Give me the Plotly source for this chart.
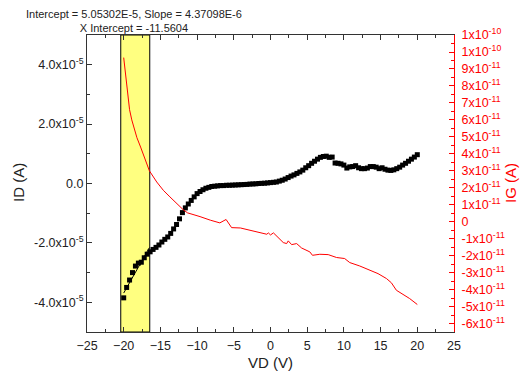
import plotly.graph_objects as go

# ---------------- data ----------------
vd = [-20.0, -19.6, -19.2, -18.8, -18.4, -18.0, -17.6, -17.2, -16.8, -16.4,
      -16.0, -15.6, -15.2, -14.8, -14.4, -14.0, -13.6, -13.2, -12.8, -12.4,
      -12.0, -11.6, -11.2, -10.8, -10.4, -10.0, -9.6, -9.2, -8.8, -8.4,
      -8.0, -7.6, -7.2, -6.8, -6.4, -6.0, -5.6, -5.2, -4.8, -4.4,
      -4.0, -3.6, -3.2, -2.8, -2.4, -2.0, -1.6, -1.2, -0.8, -0.4,
      0.0, 0.4, 0.8, 1.2, 1.6, 2.0, 2.4, 2.8, 3.2, 3.6,
      4.0, 4.4, 4.8, 5.2, 5.6, 6.0, 6.4, 6.8, 7.2, 7.6,
      8.0, 8.4, 8.8, 9.2, 9.6, 10.0, 10.4, 10.8, 11.2, 11.6,
      12.0, 12.4, 12.8, 13.2, 13.6, 14.0, 14.4, 14.8, 15.2, 15.6,
      16.0, 16.4, 16.8, 17.2, 17.6, 18.0, 18.4, 18.8, 19.2, 19.6, 20.0]

id_e5 = [-3.85, -3.5, -3.25, -3.0, -2.78, -2.68, -2.65, -2.5, -2.38, -2.3,
         -2.22, -2.15, -2.07, -1.97, -1.88, -1.8, -1.68, -1.53, -1.38, -1.19,
         -0.98, -0.82, -0.69, -0.57, -0.45, -0.34, -0.27, -0.21, -0.16, -0.13,
         -0.10, -0.09, -0.08, -0.07, -0.07, -0.06, -0.06, -0.055, -0.05, -0.045,
         -0.04, -0.035, -0.03, -0.02, -0.015, -0.01, 0.0, 0.005, 0.01, 0.02,
         0.03, 0.04, 0.05, 0.08, 0.11, 0.15, 0.2, 0.25, 0.29, 0.34,
         0.39, 0.45, 0.53, 0.6, 0.68, 0.75, 0.82, 0.88, 0.91, 0.92,
         0.88, 0.89, 0.69, 0.68, 0.66, 0.62, 0.52, 0.56, 0.57, 0.6,
         0.53, 0.5, 0.5, 0.52, 0.57, 0.57, 0.55, 0.5, 0.53, 0.48,
         0.45, 0.44, 0.46, 0.5, 0.55, 0.62, 0.68, 0.75, 0.82, 0.89, 0.97]

vg_vd = [-20.0, -19.8, -19.6, -19.4, -19.2, -18.9, -18.6, -18.2, -17.7, -17.2,
         -16.5, -15.5, -14.6, -13.7, -12.8, -11.9, -11.3, -10.1, -9.6, -8.2,
         -6.9, -6.05, -5.3, -4.1, -2.8, -1.0, -0.5, -0.3, 0.0, 0.4,
         1.06, 1.74, 2.2, 2.42, 2.88, 3.56, 4.24, 4.83, 5.36, 5.72,
         6.72, 7.86, 9.0, 10.1, 10.8, 12.16, 13.5, 14.65, 15.8, 16.47,
         17.15, 18.05, 18.96, 20.0]
ig_e11 = [9.67, 8.9, 8.0, 7.2, 6.6, 6.0, 5.5, 4.95, 4.4, 3.8,
          3.0, 2.34, 1.85, 1.46, 1.07, 0.71, 0.52, 0.38, 0.3, 0.09,
          -0.07, 0.13, -0.35, -0.37, -0.5, -0.7, -0.74, -0.66, -0.78, -0.66,
          -0.93, -1.23, -1.29, -1.13, -1.35, -1.29, -1.55, -1.68, -1.78, -1.98,
          -1.92, -1.94, -2.11, -2.17, -2.41, -2.61, -2.86, -3.06, -3.35, -3.6,
          -4.04, -4.29, -4.53, -4.88]

fit_intercept = 5.05302e-5
fit_slope = 4.37098e-6
fit_x = [-20.0, -16.5]
fit_range = [-20.4, -16.45]

id_vals = [v * 1e-5 for v in id_e5]
ig_vals = [v * 1e-11 for v in ig_e11]
fit_y = [fit_intercept + fit_slope * x for x in fit_x]

left_ticks = [-4e-5, -2e-5, 0, 2e-5, 4e-5]
left_text = ["-4.0x10<sup>-5</sup>", "-2.0x10<sup>-5</sup>", "0.0",
             "2.0x10<sup>-5</sup>", "4.0x10<sup>-5</sup>"]
right_ticks = [k * 1e-11 for k in range(-6, 12)]
right_text = []
for k in range(-6, 12):
    if k == 0:
        right_text.append("0")
    elif abs(k) >= 10:
        right_text.append(("-" if k < 0 else "") + "1x10<sup>-10</sup>")
    else:
        right_text.append(f"{k}x10<sup>-11</sup>")

FONT = "Arial, Liberation Sans, sans-serif"
RED = "#FF0000"

fig = go.Figure()
fig.add_trace(go.Scatter(x=vd, y=id_vals, mode="markers",
                         marker=dict(symbol="square", size=5, color="black"),
                         showlegend=False, yaxis="y"))
fig.add_trace(go.Scatter(x=fit_x, y=fit_y, mode="lines",
                         line=dict(color="black", width=1),
                         showlegend=False, yaxis="y"))
fig.add_trace(go.Scatter(x=vg_vd, y=ig_vals, mode="lines",
                         line=dict(color=RED, width=1),
                         showlegend=False, yaxis="y2"))

fig.add_shape(type="rect", xref="x", yref="paper",
              x0=fit_range[0], x1=fit_range[1], y0=0, y1=1,
              fillcolor="#FFFF80", line=dict(color="black", width=1),
              layer="below")

L, R, T, B = 87, 71, 35, 48
W, H = 525, 380
pw, ph = W - L - R, H - T - B

def px(xp):
    return (xp - L) / pw

def py(yp):
    return (H - B - yp) / ph

fig.update_layout(
    width=W, height=H,
    margin=dict(l=L, r=R, t=T, b=B, pad=0),
    paper_bgcolor="white", plot_bgcolor="white",
    font=dict(family=FONT, size=12, color="#222"),
    xaxis=dict(range=[-25, 25], tickvals=list(range(-25, 30, 5)),
               ticks="inside", ticklen=5, tickcolor="#333",
               showline=True, linecolor="#333", linewidth=1, mirror="ticks",
               showgrid=False, zeroline=False, ticklabelstandoff=2,
               minor=dict(ticks="inside", ticklen=3, tickcolor="#333",
                          tickvals=[-22.5, -17.5, -12.5, -7.5, -2.5, 2.5, 7.5, 12.5, 17.5, 22.5]),
               tickfont=dict(size=12.5, color="#222")),
    yaxis=dict(range=[-5e-5, 5e-5], tickvals=left_ticks, ticktext=left_text,
               ticks="inside", ticklen=5, tickcolor="#333",
               showline=True, linecolor="#333", linewidth=1, mirror=False,
               showgrid=False, zeroline=False,
               minor=dict(ticks="inside", ticklen=3, tickcolor="#333",
                          tickvals=[-5e-5, -3e-5, -1e-5, 1e-5, 3e-5, 5e-5]),
               tickfont=dict(size=12.5, color="#222")),
    yaxis2=dict(range=[-6.5e-11, 1.1002e-10], overlaying="y", side="right",
                tickvals=right_ticks, ticktext=right_text,
                ticks="inside", ticklen=5, tickcolor=RED,
                showline=True, linecolor=RED, linewidth=1,
                showgrid=False, zeroline=False, ticklabelstandoff=4,
                minor=dict(ticks="inside", ticklen=3, tickcolor=RED,
                           tickvals=[(k + 0.5) * 1e-11 for k in range(-7, 11)]),
                tickfont=dict(size=12.5, color=RED)),
)

fig.add_annotation(text="Intercept = 5.05302E-5, Slope = 4.37098E-6<br>X Intercept = -11.5604",
                   xref="paper", yref="paper", x=px(134), y=py(21),
                   xanchor="center", yanchor="middle", showarrow=False,
                   font=dict(size=11, color="#222", family=FONT))
fig.add_annotation(text="ID (A)", xref="paper", yref="paper", x=px(18), y=py(183),
                   textangle=-90, showarrow=False, xanchor="center", yanchor="middle",
                   font=dict(size=15, color="#222", family=FONT))
fig.add_annotation(text="VD (V)", xref="paper", yref="paper", x=px(270), y=py(362),
                   showarrow=False, xanchor="center", yanchor="middle",
                   font=dict(size=15, color="#222", family=FONT))
fig.add_annotation(text="IG (A)", xref="paper", yref="paper", x=px(510), y=py(183),
                   textangle=-90, showarrow=False, xanchor="center", yanchor="middle",
                   font=dict(size=15, color=RED, family=FONT))

fig.write_html("out.html")
